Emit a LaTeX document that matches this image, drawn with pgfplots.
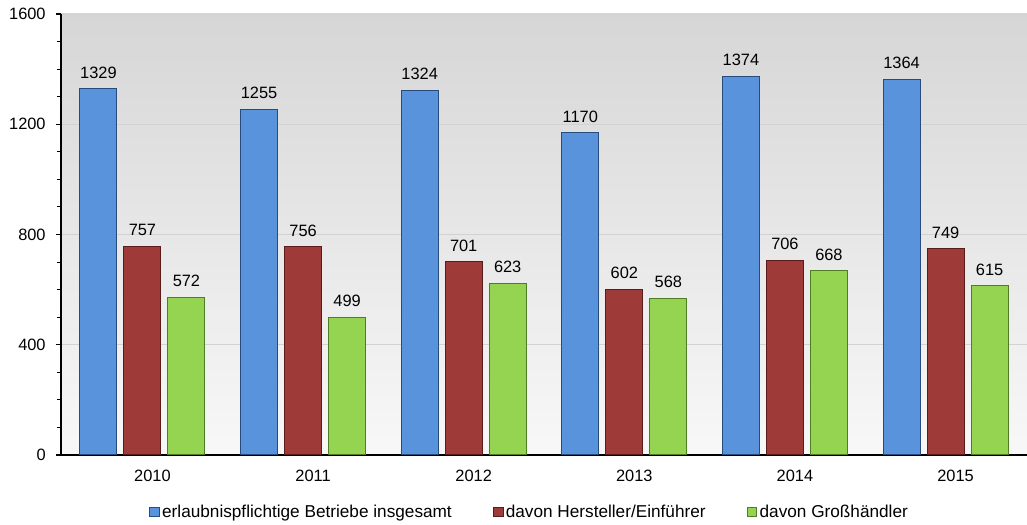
\documentclass[border=0pt]{standalone}
\usepackage{fontspec}
\setmainfont{Liberation Sans}
\usepackage{pgfplots}
\pgfplotsset{compat=1.18}
\definecolor{cblue}{RGB}{88,147,220}
\definecolor{cbluee}{RGB}{40,75,125}
\definecolor{cred}{RGB}{158,58,56}
\definecolor{credd}{RGB}{90,28,26}
\definecolor{cgreen}{RGB}{148,212,80}
\definecolor{cgreend}{RGB}{80,125,35}
\begin{document}
\begin{tikzpicture}
\begin{axis}[
  scale only axis,
  width=724.5pt, height=330.75pt,
  xmin=-0.507, xmax=5.507,
  ymin=0, ymax=1600,
  ybar=5.25pt, bar width=27.75pt,
  axis x line*=bottom, axis y line*=left,
  axis line style={black, line width=1.3pt, -},
  xtick={0.062,1.062,2.062,3.062,4.062,5.062},
  xticklabels={2010,2011,2012,2013,2014,2015},
  x tick style={draw=none},
  ytick={0,400,800,1200,1600},
  minor y tick num=3,
  y tick style={black, line width=0.8pt},
  major tick length=4pt, minor tick length=3pt,
  tick align=outside,
  ymajorgrids,
  major grid style={gray!35, line width=0.6pt},
  axis background/.style={shade, top color={rgb,255:red,214;green,214;blue,214}, bottom color={rgb,255:red,248;green,248;blue,248}},
  /pgf/number format/assume math mode=true,
  /pgf/number format/set thousands separator={},
  ticklabel style={font=\fontsize{12.3}{14}\selectfont},
  yticklabel style={xshift=-4pt},
  xticklabel style={yshift=-4pt},
  nodes near coords,
  every node near coord/.append style={font=\fontsize{12.3}{14}\selectfont, black, yshift=4pt},
  legend columns=3,
  legend style={draw=none, fill=none, at={(0.4855,-0.129)}, anchor=center,
    font=\fontsize{12.9}{14}\selectfont,
    /tikz/every even column/.append style={column sep=29pt}},
  legend image code/.code={\draw[#1, line width=0.5pt] (0pt,-3.2pt) rectangle (7pt,3.2pt);},
]
\addplot[fill=cblue, draw=cbluee, line width=0.8pt] coordinates {(0,1329) (1,1255) (2,1324) (3,1170) (4,1374) (5,1364)};
\addplot[fill=cred, draw=credd, line width=0.8pt] coordinates {(0,757) (1,756) (2,701) (3,602) (4,706) (5,749)};
\addplot[fill=cgreen, draw=cgreend, line width=0.8pt] coordinates {(0,572) (1,499) (2,623) (3,568) (4,668) (5,615)};
\legend{erlaubnispflichtige Betriebe insgesamt, davon Hersteller/Einführer, davon Großhändler}
\end{axis}
\pgfresetboundingbox
\path ([xshift=-45.75pt,yshift=-52.5pt]current axis.south west) rectangle ([yshift=10.5pt]current axis.north east);
\end{tikzpicture}
\end{document}
